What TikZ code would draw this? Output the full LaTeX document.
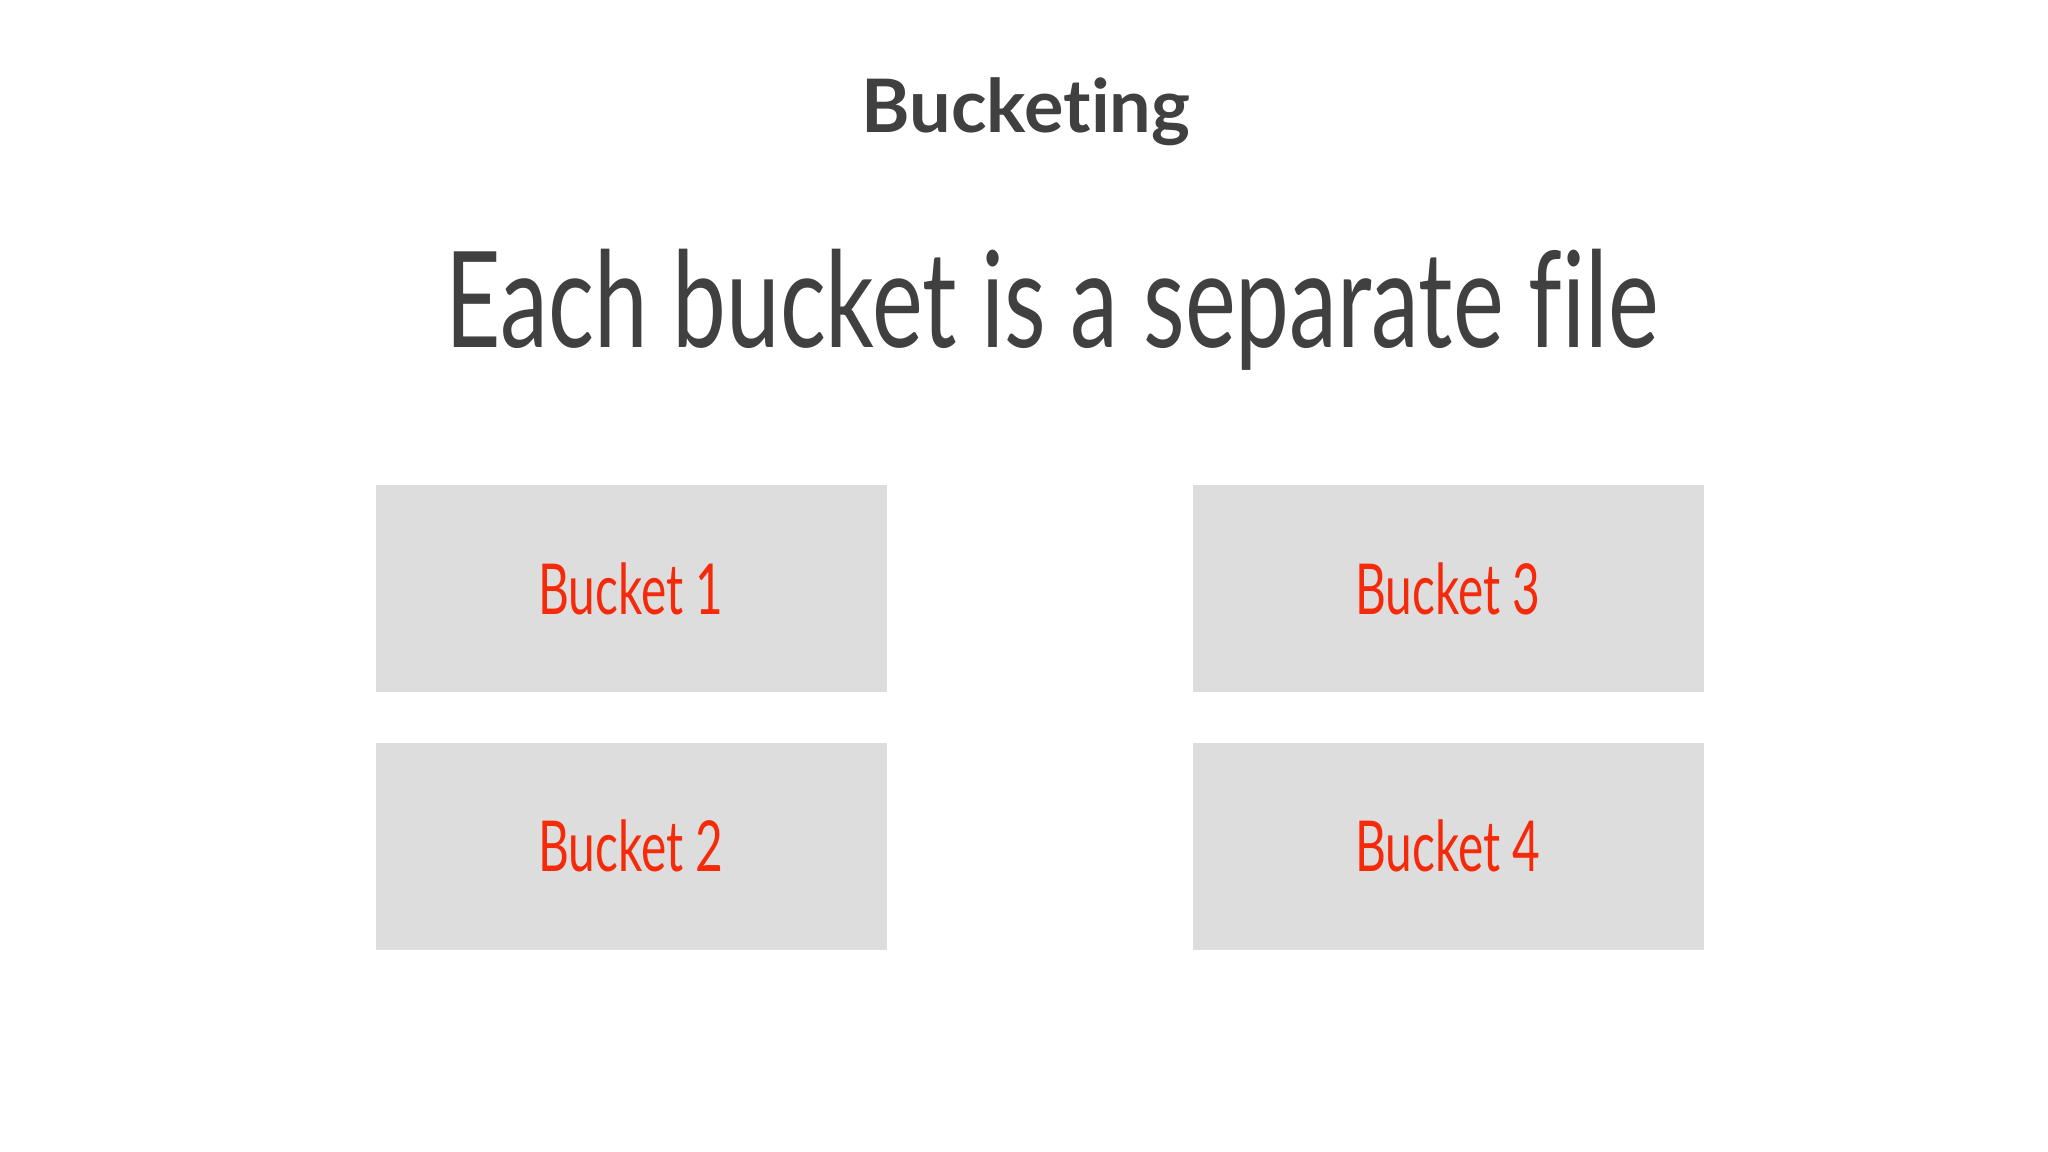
\documentclass[tikz,border=0pt]{standalone}
\usepackage{fontspec}
\setmainfont{Lato}[Ligatures=NoCommon]
\definecolor{inkgray}{HTML}{404040}
\definecolor{boxgray}{HTML}{DDDDDD}
\definecolor{bucketred}{HTML}{F52A0A}

\begin{document}
\begin{tikzpicture}[
    bucketbox/.style={fill=boxgray, minimum width=5.11cm, minimum height=2.07cm, inner sep=0pt},
    bucketlabel/.style={text=bucketred, font=\fontsize{20}{24}\selectfont, xscale=0.68},
  ]
        \useasboundingbox (0,0) rectangle (20.48,-11.52);
        \node[text=inkgray, font=\fontsize{21}{26}\selectfont\bfseries] (title) at (10.26,-1.12) {Bucketing};
        \node[text=inkgray, font=\fontsize{38}{44}\selectfont, xscale=0.72] (sub) at (10.52,-3.1) {Each bucket is a separate file};
        \node[bucketbox] (b1) at (6.31,-5.885) {};
        \node[bucketbox] (b2) at (6.31,-8.46) {};
        \node[bucketbox] (b3) at (14.48,-5.885) {};
        \node[bucketbox] (b4) at (14.48,-8.46) {};
        \node[bucketlabel] at (b1) {Bucket 1};
        \node[bucketlabel] at (b2) {Bucket 2};
        \node[bucketlabel] at (b3) {Bucket 3};
        \node[bucketlabel] at (b4) {Bucket 4};
      \end{tikzpicture}
\end{document}
